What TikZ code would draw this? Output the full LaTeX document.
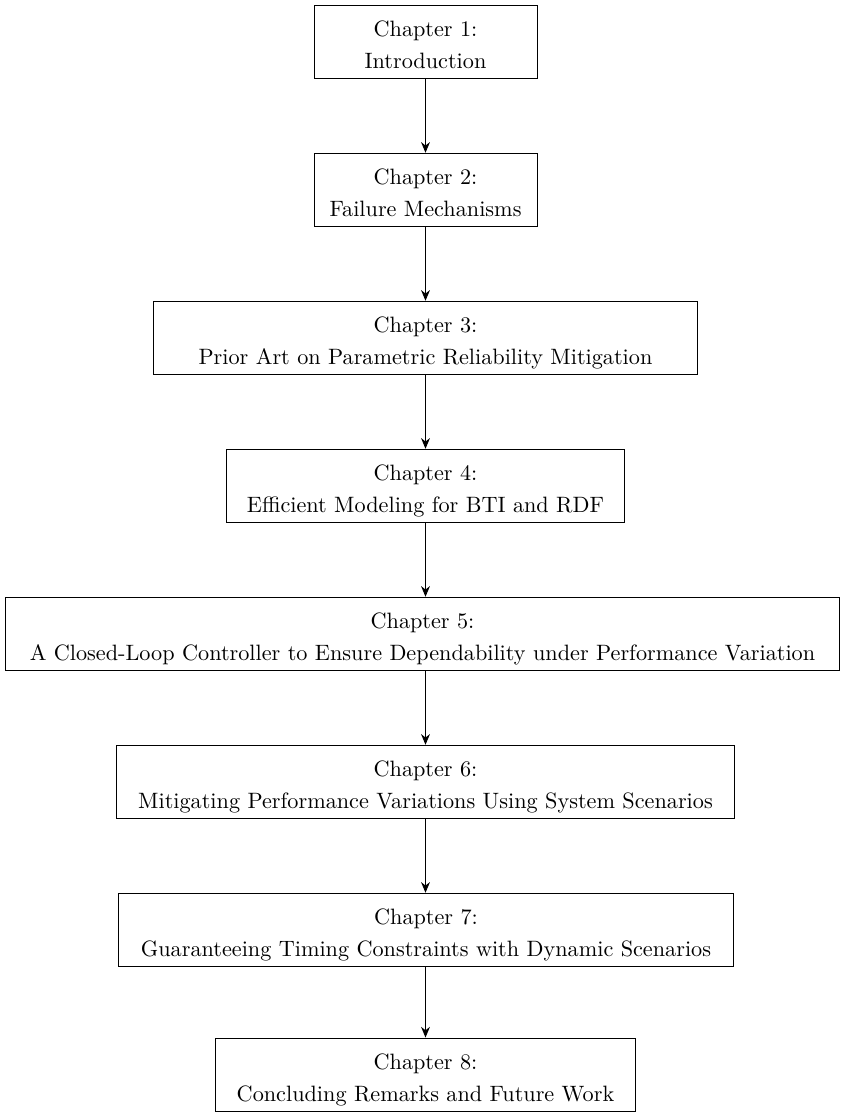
\documentclass[tikz,border=0pt]{standalone}
\usetikzlibrary{arrows.meta}

% two-line chapter label with fixed first-line height and last-line depth
\newcommand\chaptext[2]{\rule{0pt}{14.2pt}Chapter #1:\\#2\rule[-4.25pt]{0pt}{4.25pt}}

\tikzset{
  chapbox/.style={draw, line width=0.45pt, align=center, inner sep=0pt,
    font={\fontsize{10pt}{14.4pt}\selectfont}},
  flow/.style={-{Stealth[length=4.8pt,width=4pt]}, line width=0.45pt}
}

\begin{document}
\begin{tikzpicture}[x=0.45pt, y=-0.45pt]
  \useasboundingbox (0,0) rectangle (840,1112);

  \node[chapbox, minimum width=100.35pt] (c1) at (425.5,41.75)
    {\chaptext{1}{Introduction}};
  \node[chapbox, minimum width=100.35pt] (c2) at (425.5,189.75)
    {\chaptext{2}{Failure Mechanisms}};
  \node[chapbox, minimum width=244.35pt] (c3) at (425.5,337.75)
    {\chaptext{3}{Prior Art on Parametric Reliability Mitigation}};
  \node[chapbox, minimum width=179.1pt] (c4) at (425.5,485.75)
    {\chaptext{4}{Efficient Modeling for BTI and RDF}};
  \node[chapbox, minimum width=374.85pt] (c5) at (422.5,633.75)
    {\chaptext{5}{A Closed-Loop Controller to Ensure Dependability under Performance Variation}};
  \node[chapbox, minimum width=277.65pt] (c6) at (425.5,781.75)
    {\chaptext{6}{Mitigating Performance Variations Using System Scenarios}};
  \node[chapbox, minimum width=276.3pt] (c7) at (426,929.75)
    {\chaptext{7}{Guaranteeing Timing Constraints with Dynamic Scenarios}};
  \node[chapbox, minimum width=189pt] (c8) at (425.5,1074.5)
    {\chaptext{8}{Concluding Remarks and Future Work}};

  \draw[flow] (c1.south) -- (c2.north);
  \draw[flow] (c2.south) -- (c3.north);
  \draw[flow] (c3.south) -- (c4.north);
  \draw[flow] (c4.south) -- (c4.south |- c5.north);
  \draw[flow] (c5.south -| c6.north) -- (c6.north);
  \draw[flow] (c6.south) -- (c6.south |- c7.north);
  \draw[flow] (c7.south -| c8.north) -- (c8.north);
\end{tikzpicture}
\end{document}
